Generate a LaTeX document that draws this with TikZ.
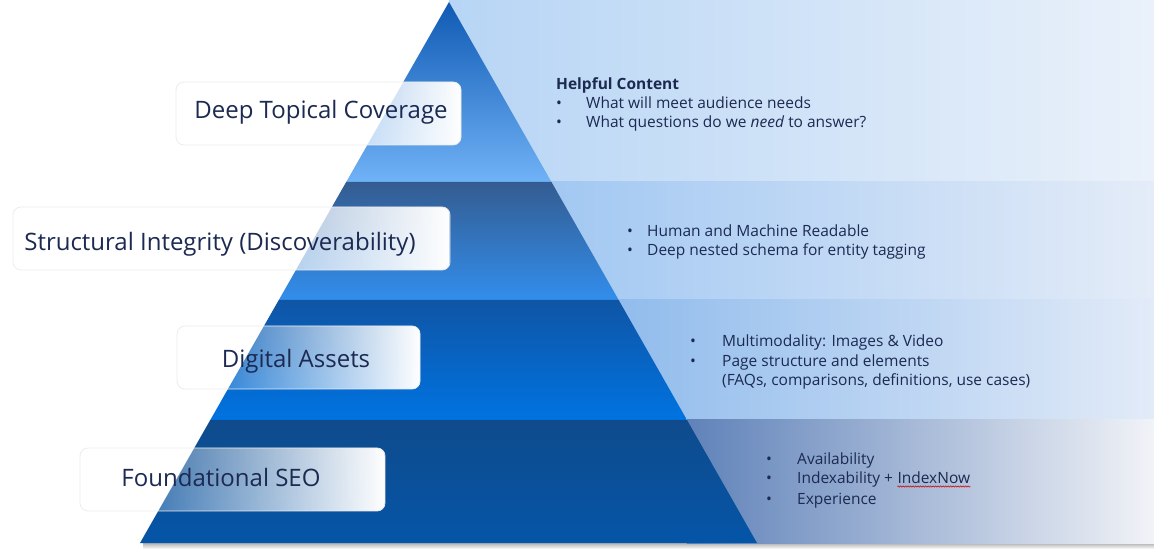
\documentclass[tikz,border=0pt]{standalone}
\usepackage{fontspec}
\setmainfont{Open Sans}
\usetikzlibrary{calc,fadings,decorations.pathmorphing}

\definecolor{navytext}{RGB}{28,42,82}
\definecolor{bandAl}{RGB}{183,213,245}
\definecolor{bandAr}{RGB}{234,241,250}
\definecolor{bandBl}{RGB}{162,200,242}
\definecolor{bandBr}{RGB}{228,236,248}
\definecolor{bandCl}{RGB}{145,188,236}
\definecolor{bandCr}{RGB}{226,235,248}
\definecolor{bandDl}{RGB}{95,130,185}
\definecolor{bandDr}{RGB}{241,243,247}
\definecolor{layAt}{RGB}{15,90,180}
\definecolor{layAb}{RGB}{112,178,246}
\definecolor{layBt}{RGB}{52,92,145}
\definecolor{layBb}{RGB}{50,142,236}
\definecolor{layCt}{RGB}{15,85,165}
\definecolor{layCb}{RGB}{0,115,225}
\definecolor{layDt}{RGB}{15,75,140}
\definecolor{layDb}{RGB}{5,85,168}

\tikzfading[name=boxfade, left color=transparent!100, right color=transparent!0]

\begin{document}
\begin{tikzpicture}[x=1pt,y=1pt,
    labelbox/.style={fill=white, path fading=boxfade, rounded corners=8pt},
    boxedge/.style={draw=gray!15, line width=0.8pt, rounded corners=8pt},
    labeltext/.style={text=navytext, font=\fontsize{24}{28}\selectfont, inner sep=0pt, anchor=base},
    listtext/.style={text=navytext, font=\fontsize{15.5}{18}\selectfont, inner sep=0pt, anchor=base west},
    squiggle/.style={red!80!black, line width=0.5pt, decorate,
        decoration={snake, amplitude=0.7pt, segment length=2.5pt}}]
    \useasboundingbox (0,0) rectangle (1154,549);

    % Pyramid corners
    \coordinate (apex) at (449,547);
    \coordinate (bl) at (140,6);
    \coordinate (br) at (757,6);

    % Layer cuts on both edges
    \coordinate (l1) at ($(apex)!0.3327!(bl)$);
    \coordinate (r1) at ($(apex)!0.3327!(br)$);
    \coordinate (l2) at ($(apex)!0.5508!(bl)$);
    \coordinate (r2) at ($(apex)!0.5508!(br)$);
    \coordinate (l3) at ($(apex)!0.7726!(bl)$);
    \coordinate (r3) at ($(apex)!0.7726!(br)$);

    % Shadow under the base
    \shade[top color=black!30, bottom color=white] (143,6) rectangle (1154,0);

    % Bands behind the pyramid
    \shade[left color=bandAl, right color=bandAr] (449,548) rectangle (1154,367);
    \shade[left color=bandBl, right color=bandBr] (r1) rectangle (1154,249);
    \shade[left color=bandCl, right color=bandCr] (r2) rectangle (1154,129);
    \shade[left color=bandDl, right color=bandDr] (r3) rectangle (1154,6);

    % Pyramid layers
    \shade[top color=layAt, bottom color=layAb] (apex) -- (r1) -- (l1) -- cycle;
    \shade[top color=layBt, bottom color=layBb] (l1) -- (r1) -- (r2) -- (l2) -- cycle;
    \shade[top color=layCt, bottom color=layCb] (l2) -- (r2) -- (r3) -- (l3) -- cycle;
    \shade[top color=layDt, bottom color=layDb] (l3) -- (r3) -- (br) -- (bl) -- cycle;

    % Label boxes
    \fill[labelbox] (176,467) rectangle (461,404);
    \draw[boxedge] (176,467) rectangle (461,404);
    \fill[labelbox] (13,342) rectangle (450,279);
    \draw[boxedge] (13,342) rectangle (450,279);
    \fill[labelbox] (177,223) rectangle (420,160);
    \draw[boxedge] (177,223) rectangle (420,160);
    \fill[labelbox] (80,101) rectangle (385,38);
    \draw[boxedge] (80,101) rectangle (385,38);

    \node[labeltext] (deep) at (321,430) {Deep Topical Coverage};
    \node[labeltext] (structural) at (220,298) {Structural Integrity (Discoverability)};
    \node[labeltext] (digital) at (296,181) {Digital Assets};
    \node[labeltext] (found) at (221,62) {Foundational SEO};

    % Helpful content
    \node[listtext] (helpful) at (556,459) {\textbf{Helpful Content}};
    \node[listtext] (meet) at (556,440) {\makebox[30pt][l]{•}What will meet audience needs};
    \node[listtext] (answer) at (556,421) {\makebox[30pt][l]{•}What questions do we \textit{need} to answer?};

    % Structure
    \node[listtext] (readable) at (627,312) {\makebox[20pt][l]{•}Human and Machine Readable};
    \node[listtext] (schema) at (627,293) {\makebox[20pt][l]{•}Deep nested schema for entity tagging};

    % Assets
    \node[listtext] (media) at (690,202) {\makebox[32pt][l]{•}Multimodality: Images \& Video};
    \node[listtext] (pages) at (690,182) {\makebox[32pt][l]{•}Page structure and elements};
    \node[listtext] (faqs) at (722,163) {(FAQs, comparisons, definitions, use cases)};

    % Foundations
    \node[listtext] (avail) at (766,84) {\makebox[31pt][l]{•}Availability};
    \node[listtext] (index) at (766,65) {\makebox[31pt][l]{•}Indexability +};
    \node[listtext] (indexnow) at ([xshift=4pt]index.base east) {IndexNow};
    \node[listtext] (exper) at (766,45) {\makebox[31pt][l]{•}Experience};
    \draw[squiggle] ([yshift=-2.5pt]indexnow.base west) -- ([yshift=-2.5pt]indexnow.base east);
\end{tikzpicture}
\end{document}
